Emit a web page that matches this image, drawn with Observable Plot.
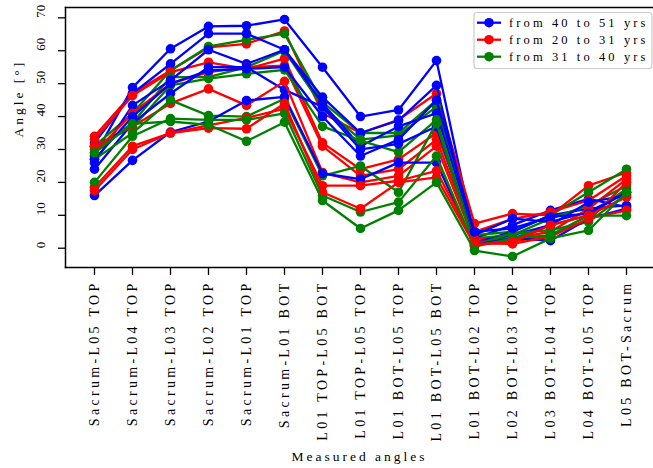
<!DOCTYPE html>
<html>
<head>
<meta charset="utf-8">
<script src="https://cdn.jsdelivr.net/npm/d3@7"></script>
<script src="https://cdn.jsdelivr.net/npm/@observablehq/plot@0.6"></script>
<style>
  html, body { margin: 0; padding: 0; background: #fff; }
  #chart { width: 653px; height: 468px; }
</style>
</head>
<body>
<div id="chart"></div>
<script>
const categories = [
  "Sacrum-L05 TOP", "Sacrum-L04 TOP", "Sacrum-L03 TOP", "Sacrum-L02 TOP",
  "Sacrum-L01 TOP", "Sacrum-L01 BOT", "L01 TOP-L05 BOT", "L01 TOP-L05 TOP",
  "L01 BOT-L05 TOP", "L01 BOT-L05 BOT", "L01 BOT-L02 TOP", "L02 BOT-L03 TOP",
  "L03 BOT-L04 TOP", "L04 BOT-L05 TOP", "L05 BOT-Sacrum"
];
const yTicks = [0, 10, 20, 30, 40, 50, 60, 70];
const groupLabels = ["from 40 to 51 yrs", "from 20 to 31 yrs", "from 31 to 40 yrs"];
const groupColors = ["#0000ff", "#ff0000", "#008000"];

// from 40 to 51 yrs
const blueSeries = [
  [28, 48.8, 60.6, 67.4, 67.6, 69.5, 55, 40, 42, 57, 3, 7, 11.5, 15, 12.5],
  [32, 47, 56, 65.2, 65.2, 60.3, 45.9, 35, 38.8, 49.5, 1.5, 5, 10, 12, 13],
  [26, 43.4, 51, 60.3, 56, 60.3, 44, 31, 37, 41, 4, 9, 8, 11, 17],
  [24, 38, 47, 55, 55, 48.1, 43, 30, 31.7, 37, 2, 4, 7, 14, 16],
  [16, 26.7, 35.3, 38.5, 44.9, 46, 22.7, 21, 26, 26, 1, 3, 2.3, 9, 12],
  [27, 40, 50, 54, 54.5, 55, 40, 28, 33, 45, 5, 6, 9.5, 10.5, 17]
];
// from 20 to 31 yrs
const redSeries = [
  [34, 47, 54, 61, 62.1, 66, 41, 35, 39, 47, 7.5, 10.5, 10, 19, 23],
  [33, 46.4, 53.5, 56.5, 54.5, 57.6, 32, 24, 27, 35, 5, 8.9, 11, 14.5, 22],
  [29, 41, 50, 53.5, 55, 55.5, 31, 22, 24, 33, 3, 3, 5, 12, 21],
  [31, 37, 44, 48.4, 43.4, 50.7, 23, 20, 22, 31, 2, 2, 4, 8.4, 20],
  [18.5, 31, 35, 37.3, 39.6, 42.4, 19, 19, 20.5, 23.5, 1.5, 1.3, 3.5, 9, 11.5],
  [17.5, 30, 35, 36.5, 36.3, 44, 17, 12, 20, 21.5, 1, 2, 7, 10, 15.5]
];
// from 31 to 40 yrs
const greenSeries = [
  [31, 41, 54, 61.3, 63.3, 65.2, 44.4, 35, 35, 45, 4, 5, 10, 17, 24],
  [30, 38, 52, 52, 55, 60, 43, 33, 34.3, 43, 3, 4, 9, 13, 19],
  [31, 36.7, 49.5, 51.5, 53, 54.2, 37, 32.7, 29.2, 39, 2, 3, 7, 10, 18],
  [27, 35, 45, 40.3, 40, 45.4, 22, 25, 17, 38, 1, 4.5, 5.5, 8, 16.5],
  [20, 34, 39.4, 39, 39, 41, 16, 11, 14, 28, 0.5, 3, 4, 9.9, 9.9],
  [29, 37.8, 38.5, 37.5, 32.5, 38.3, 14.5, 6, 11.5, 20, -0.7, -2.5, 3, 5.4, 17]
];

const groups = [blueSeries, redSeries, greenSeries];
const FONT = "'Liberation Serif', 'DejaVu Serif', serif";

// interleave series by subject order
const marks = [];
for (let i = 0; i < 6; i++) {
  groups.forEach((g, gi) => {
    const rows = categories.map((c, k) => ({c, v: g[i][k]}));
    marks.push(Plot.line(rows, {x: "c", y: "v", stroke: groupColors[gi], strokeWidth: 2.3}));
    marks.push(Plot.dot(rows, {x: "c", y: "v", r: 4.8, fill: groupColors[gi]}));
  });
}

const svg = Plot.plot({
  width: 653,
  height: 468,
  marginLeft: 65,
  marginRight: 0,
  marginTop: 7,
  marginBottom: 201,
  style: {fontFamily: FONT, fontSize: "13px", color: "#000", background: "#fff"},
  x: {type: "point", domain: categories, range: [91.7, 629], padding: 0},
  y: {domain: [-5.86, 73.14]},
  marks: [
    Plot.frame({anchor: "top", stroke: "#000", strokeWidth: 1.5}),
    Plot.frame({anchor: "left", stroke: "#000", strokeWidth: 1.5}),
    Plot.frame({anchor: "bottom", stroke: "#000", strokeWidth: 1.5}),
    Plot.axisY({ticks: yTicks, tickSize: 7, tickFormat: () => "", strokeWidth: 1.3, label: null}),
    Plot.text(yTicks, {y: d => d, text: d => String(d), frameAnchor: "left", dx: -25, rotate: -90, fontSize: 13, fill: "#000"}),
    Plot.axisX({tickRotate: -90, tickSize: 8, tickPadding: 5, fontSize: 14, strokeWidth: 1.3, label: null}),
    Plot.text(["Measured angles"], {frameAnchor: "bottom", dy: 193, text: d => d, fontSize: 13.5, fill: "#000"}),
    Plot.text(["Angle [°]"], {frameAnchor: "left", dx: -47, rotate: -90, text: d => d, fontSize: 13.5, fill: "#000"}),
    ...marks
  ]
});

document.getElementById("chart").appendChild(svg);

const s = d3.select(svg);
s.selectAll("g[aria-label='x-axis tick label'] text").style("letter-spacing", "3.3px");
s.selectAll("text").filter(function() { return this.textContent === "Measured angles" || this.textContent === "Angle [°]"; })
  .style("letter-spacing", "3px");

// legend
const lg = s.append("g").attr("font-family", FONT).attr("font-size", 12.5).attr("text-anchor", "start");
lg.append("rect").attr("x", 474).attr("y", 12.5).attr("width", 178).attr("height", 56)
  .attr("rx", 3).attr("fill", "#fff").attr("fill-opacity", 0.85).attr("stroke", "#cccccc").attr("stroke-width", 1.2);
groupLabels.forEach((label, i) => {
  const y = 22.7 + i * 17;
  lg.append("line").attr("x1", 477).attr("x2", 501).attr("y1", y).attr("y2", y)
    .attr("stroke", groupColors[i]).attr("stroke-width", 2.3);
  lg.append("circle").attr("cx", 489).attr("cy", y).attr("r", 4.8).attr("fill", groupColors[i]);
  lg.append("text").attr("x", 509).attr("y", y).attr("dy", "0.35em").attr("fill", "#000")
    .attr("text-anchor", "start").style("letter-spacing", "3.1px").text(label);
});
</script>
</body>
</html>
